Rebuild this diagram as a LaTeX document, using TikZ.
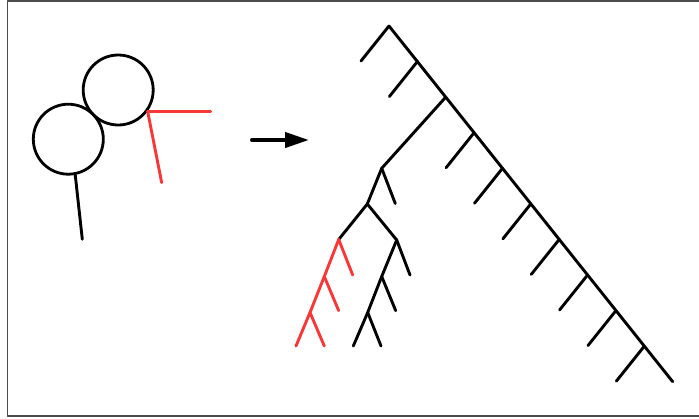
\documentclass[tikz,border=0pt]{standalone}
\usetikzlibrary{arrows.meta, calc}
\definecolor{graftred}{RGB}{250,55,55}

\begin{document}
\begin{tikzpicture}[
        x=1pt, y=-1pt,
        line cap=round, line join=round,
        twig/.style={line width=2.9pt, black},
        graft/.style={line width=2.9pt, graftred},
        ball/.style={draw, circle, line width=2.8pt, minimum size=70pt, inner sep=0pt},
        arr/.style={line width=4pt, -{Triangle[length=24pt, width=15pt]}}
    ]
        \useasboundingbox (0,0) rectangle (699,418);
        \draw[line width=1.4pt, black!70] (7.5,1) rectangle (702,416);

        % left: two balls with the stem and the red pair
        \node[ball] (ball1) at (68.3,139.2) {};
        \node[ball] (ball2) at (118.2,90) {};
        \coordinate (stem)  at (82.3,239.3);
        \coordinate (rjoin) at (ball2.-36);
        \coordinate (rhor)  at ($(rjoin)+(63,0)$);
        \coordinate (rdown) at (161.7,182.7);
        \draw[twig]  (ball1.-79) -- (stem);
        \draw[graft] (rjoin) -- (rhor);
        \draw[graft] (rjoin) -- (rdown);

        % arrow
        \coordinate (from) at (252,140);
        \coordinate (to)   at (309,140);
        \draw[arr] (from) -- (to);

        % right: the spine with its side twigs
        \foreach \i in {0,...,10}
            \coordinate (s\i) at ({389+28.37*\i},{26+35.57*\i});
        \foreach \i in {0,1,3,4,5,6,7,8,9}
            \coordinate (t\i) at ($(s\i)+(-28,35)$);
        \draw[twig] (s0) -- (s10);
        \foreach \i in {0,1,3,4,5,6,7,8,9}
            \draw[twig] (s\i) -- (t\i);

        % the branch from s2
        \coordinate (A)  at (381.7,168.3);
        \coordinate (a1) at (395.3,203.5);
        \coordinate (B)  at (367.3,204);
        \coordinate (C)  at (338.7,239.5);
        \coordinate (D)  at (396.7,240);
        \draw[twig] (s2) -- (A) -- (B) -- (C);
        \draw[twig] (A) -- (a1);
        \draw[twig] (B) -- (D);

        % red end
        \coordinate (c1)  at (352.7,275);
        \coordinate (C2)  at (324.3,276.5);
        \coordinate (c2)  at (338.7,310.7);
        \coordinate (C3)  at (310,312.5);
        \coordinate (c3l) at (296,346);
        \coordinate (c3r) at (324.3,346);
        \draw[graft] (C) -- (C2) -- (C3) -- (c3l);
        \draw[graft] (C) -- (c1);
        \draw[graft] (C2) -- (c2);
        \draw[graft] (C3) -- (c3r);

        % black end
        \coordinate (d1)  at (410,275);
        \coordinate (D2)  at (381.7,276.5);
        \coordinate (d2)  at (395.7,310.7);
        \coordinate (D3)  at (367.7,312.5);
        \coordinate (d3l) at (353.3,346);
        \coordinate (d3r) at (381,346);
        \draw[twig] (D) -- (D2) -- (D3) -- (d3l);
        \draw[twig] (D) -- (d1);
        \draw[twig] (D2) -- (d2);
        \draw[twig] (D3) -- (d3r);
    \end{tikzpicture}
\end{document}
